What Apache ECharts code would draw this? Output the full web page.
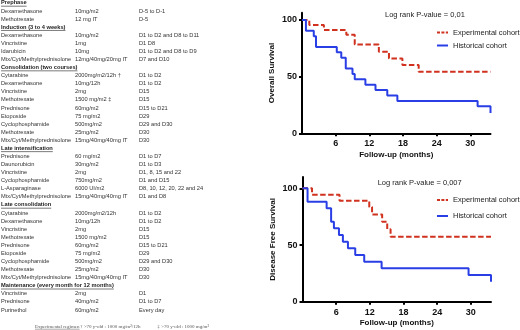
<!DOCTYPE html>
<html>
<head>
<meta charset="utf-8">
<script src="https://cdn.jsdelivr.net/npm/echarts@6/dist/echarts.min.js"></script>
<style>
  html, body { margin: 0; padding: 0; background: #fff; }
  #main { width: 520px; height: 330px; }
</style>
</head>
<body>
<div id="main"></div>
<script>
// treatment table: one-item rows are section headers
var tableRows = [
  ['Prephase'],
  ['Dexamethasone', '10mg/m2', 'D-5 to D-1'],
  ['Methotrexate', '12 mg IT', 'D-5'],
  ['Induction (3 to 4 weeks)'],
  ['Dexamethasone', '10mg/m2', 'D1 to D2 and D8 to D11'],
  ['Vincristine', '1mg', 'D1 D8'],
  ['Idarubicin', '10mg', 'D1 to D2 and D8 to D9'],
  ['Mtx/Cyt/Methylprednisolone', '12mg/40mg/20mg IT', 'D7 and D10'],
  ['Consolidation (two courses)'],
  ['Cytarabine', '2000mg/m2/12h \u2020', 'D1 to D2'],
  ['Dexamethasone', '10mg/12h', 'D1 to D2'],
  ['Vincristine', '2mg', 'D15'],
  ['Methotrexate', '1500 mg/m2 \u2021', 'D15'],
  ['Prednisone', '60mg/m2', 'D15 to D21'],
  ['Etoposide', '75 mg/m2', 'D29'],
  ['Cyclophosphamide', '500mg/m2', 'D29 and D30'],
  ['Methotrexate', '25mg/m2', 'D30'],
  ['Mtx/Cyt/Methylprednisolone', '15mg/40mg/40mg IT', 'D30'],
  ['Late intensification'],
  ['Prednisone', '60 mg/m2', 'D1 to D7'],
  ['Daunorubicin', '30mg/m2', 'D1 to D3'],
  ['Vincristine', '2mg', 'D1, 8, 15 and 22'],
  ['Cyclophosphamide', '750mg/m2', 'D1 and D15'],
  ['L-Asparaginase', '6000 UI/m2', 'D8, 10, 12, 20, 22 and 24'],
  ['Mtx/Cyt/Methylprednisolone', '15mg/40mg/40mg IT', 'D1 and D8'],
  ['Late consolidation'],
  ['Cytarabine', '2000mg/m2/12h', 'D1 to D2'],
  ['Dexamethasone', '10mg/12h', 'D1 to D2'],
  ['Vincristine', '2mg', 'D15'],
  ['Methotrexate', '1500 mg/m2', 'D15'],
  ['Prednisone', '60mg/m2', 'D15 to D21'],
  ['Etoposide', '75 mg/m2', 'D29'],
  ['Cyclophosphamide', '500mg/m2', 'D29 and D30'],
  ['Methotrexate', '25mg/m2', 'D30'],
  ['Mtx/Cyt/Methylprednisolone', '15mg/40mg/40mg IT', 'D30'],
  ['Maintenance (every month for 12 months)'],
  ['Vincristine', '2mg', 'D1'],
  ['Prednisone', '40mg/m2', 'D1 to D7'],
  ['Purinethol', '60mg/m2', 'Every day']
];
var footnoteTitle = 'Experimental regimen';
var footnotes = ['\u2020 >70 y-old : 1000 mg/m\u00b2/12h', '\u2021 >70 y-old : 1000 mg/m\u00b2'];

// Kaplan-Meier curves, [month, % surviving]
var osExperimental = [[0, 100], [1.3, 95.6], [3.9, 91.2], [7.9, 87], [9.4, 78.3], [13.7, 72], [15.5, 66], [17.9, 60.2], [20.8, 54.2], [33.6, 54.2]];
var osHistorical = [[0, 100], [0.7, 90.5], [2.1, 85.7], [2.5, 76.2], [6.2, 71.4], [7.0, 66.7], [7.8, 57.1], [9.0, 52.4], [9.4, 47.6], [11.3, 42.9], [13.1, 38.1], [15.2, 33.3], [17.0, 28.6], [31.3, 23.8], [33.6, 18]];
var dfsExperimental = [[0, 100], [1.7, 94.4], [6.6, 89], [11.9, 83.6], [12.4, 77], [14.2, 70.5], [15.1, 64], [15.7, 57.3], [33.6, 57.3]];
var dfsHistorical = [[0, 100], [0.9, 88.2], [4.3, 82.4], [5.1, 70.6], [5.6, 64.7], [6.5, 58.8], [7.2, 52.9], [8.1, 47.1], [9.4, 41.2], [11.0, 35.3], [14.1, 29.4], [29.6, 23.5], [33.6, 17.6]];

var monthTicks = [6, 12, 18, 24, 30];
var pctTicks = [0, 50, 100];
var pValues = ['Log rank P-value = 0,01', 'Log rank P-value = 0,007'];
var yNames = ['Overall Survival', 'Disease Free Survival'];

var RED = '#d0321f';
var BLUE = '#2a3ee6';

var chart = echarts.init(document.getElementById('main'));

// measure text for header underlines
var ctx = document.createElement('canvas').getContext('2d');
function textWidth(font, s) {
  ctx.font = font;
  return ctx.measureText(s).width;
}

var tableFont = '5.7px "Liberation Sans"';
var tableFontBold = 'bold 5.7px "Liberation Sans"';
var cols = [1, 75, 139];
var graphics = [];
tableRows.forEach(function (row, i) {
  var y = 2.9 + i * 8.08;
  if (row.length === 1) {
    graphics.push({
      type: 'text', x: cols[0], y: y,
      style: { text: row[0], font: tableFontBold, fill: '#222', textVerticalAlign: 'middle', verticalAlign: 'middle' }
    });
    graphics.push({
      type: 'line',
      shape: { x1: cols[0], y1: y + 3.3, x2: cols[0] + textWidth(tableFontBold, row[0]), y2: y + 3.3 },
      style: { stroke: '#222', lineWidth: 0.6 }
    });
  } else {
    row.forEach(function (cell, j) {
      graphics.push({
        type: 'text', x: cols[j], y: y,
        style: { text: cell, font: tableFont, fill: '#333', textVerticalAlign: 'middle', verticalAlign: 'middle' }
      });
    });
  }
});
var footFont = '5px "Liberation Serif"';
graphics.push({
  type: 'text', x: 35, y: 326.5,
  style: { text: footnoteTitle, font: footFont, fill: '#555', textVerticalAlign: 'middle', verticalAlign: 'middle' }
});
graphics.push({
  type: 'line',
  shape: { x1: 35, y1: 329.2, x2: 35 + textWidth(footFont, footnoteTitle), y2: 329.2 },
  style: { stroke: '#555', lineWidth: 0.5 }
});
graphics.push({
  type: 'text', x: 80, y: 326.5,
  style: { text: footnotes[0], font: footFont, fill: '#555', textVerticalAlign: 'middle', verticalAlign: 'middle' }
});
graphics.push({
  type: 'text', x: 209, y: 326.5,
  style: { text: footnotes[1], font: footFont, fill: '#555', textAlign: 'right', align: 'right', textVerticalAlign: 'middle', verticalAlign: 'middle' }
});

function xAxisFor(idx) {
  return {
    gridIndex: idx, type: 'value', min: 0, max: 33.6,
    name: 'Follow-up (months)', nameLocation: 'middle', nameGap: 17,
    nameTextStyle: { fontSize: 8, fontWeight: 'bold', color: '#111', fontFamily: 'Liberation Sans' },
    axisLine: { lineStyle: { color: '#000', width: 2 } },
    axisTick: { customValues: monthTicks, length: 3, lineStyle: { color: '#000', width: 2 } },
    axisLabel: { customValues: monthTicks, margin: 6, fontSize: 9, fontWeight: 'bold', color: '#111', fontFamily: 'Liberation Sans' },
    splitLine: { show: false }
  };
}
function yAxisFor(idx, max) {
  return {
    gridIndex: idx, type: 'value', min: 0, max: max,
    name: yNames[idx], nameLocation: 'middle', nameRotate: 90, nameGap: 26,
    nameTextStyle: { fontSize: 8, fontWeight: 'bold', color: '#111', fontFamily: 'Liberation Sans' },
    axisLine: { show: true, lineStyle: { color: '#000', width: 2 } },
    axisTick: { show: true, customValues: pctTicks, length: 3, lineStyle: { color: '#000', width: 2 } },
    axisLabel: { customValues: pctTicks, margin: 5, fontSize: 9, fontWeight: 'bold', color: '#111', fontFamily: 'Liberation Sans' },
    splitLine: { show: false }
  };
}
function kmSeries(name, data, idx, color, dashed) {
  return {
    name: name, type: 'line', step: 'end', data: data,
    xAxisIndex: idx, yAxisIndex: idx,
    symbol: 'none', silent: true, animation: false,
    lineStyle: { color: color, width: 2, type: dashed ? [5.5, 2.5] : 'solid' },
    itemStyle: { color: color }
  };
}
var hiddenMarker = { color: 'rgba(0,0,0,0)', borderColor: 'rgba(0,0,0,0)', borderWidth: 0, opacity: 0 };
function legendFor(top, gap) {
  return {
    orient: 'vertical', left: 436, top: top, padding: 0,
    itemWidth: 11, itemHeight: 8, itemGap: gap,
    textStyle: { fontSize: 7.5, color: '#222', fontFamily: 'Liberation Sans' },
    data: [
      { name: 'Experimental cohort', itemStyle: hiddenMarker, lineStyle: { color: RED, type: [3, 1.4], width: 2 } },
      { name: 'Historical cohort', itemStyle: hiddenMarker, lineStyle: { color: BLUE, width: 2 } }
    ]
  };
}

chart.setOption({
  backgroundColor: '#fff',
  animation: false,
  title: [
    { text: pValues[0], left: 385, top: 10.5, padding: 0,
      textStyle: { fontSize: 7.5, fontWeight: 'normal', color: '#222', fontFamily: 'Liberation Sans' } },
    { text: pValues[1], left: 377.7, top: 179, padding: 0,
      textStyle: { fontSize: 7.5, fontWeight: 'normal', color: '#222', fontFamily: 'Liberation Sans' } }
  ],
  legend: [legendFor(28.5, 5), legendFor(196, 8)],
  grid: [
    { left: 302, top: 12.7, width: 188.5, height: 120.6 },
    { left: 302.5, top: 177, width: 188.5, height: 124.7 }
  ],
  xAxis: [xAxisFor(0), xAxisFor(1)],
  yAxis: [yAxisFor(0, 106.4), yAxisFor(1, 110)],
  series: [
    kmSeries('Experimental cohort', osExperimental, 0, RED, true),
    kmSeries('Historical cohort', osHistorical, 0, BLUE, false),
    kmSeries('Experimental cohort', dfsExperimental, 1, RED, true),
    kmSeries('Historical cohort', dfsHistorical, 1, BLUE, false)
  ],
  graphic: graphics
});
</script>
</body>
</html>
